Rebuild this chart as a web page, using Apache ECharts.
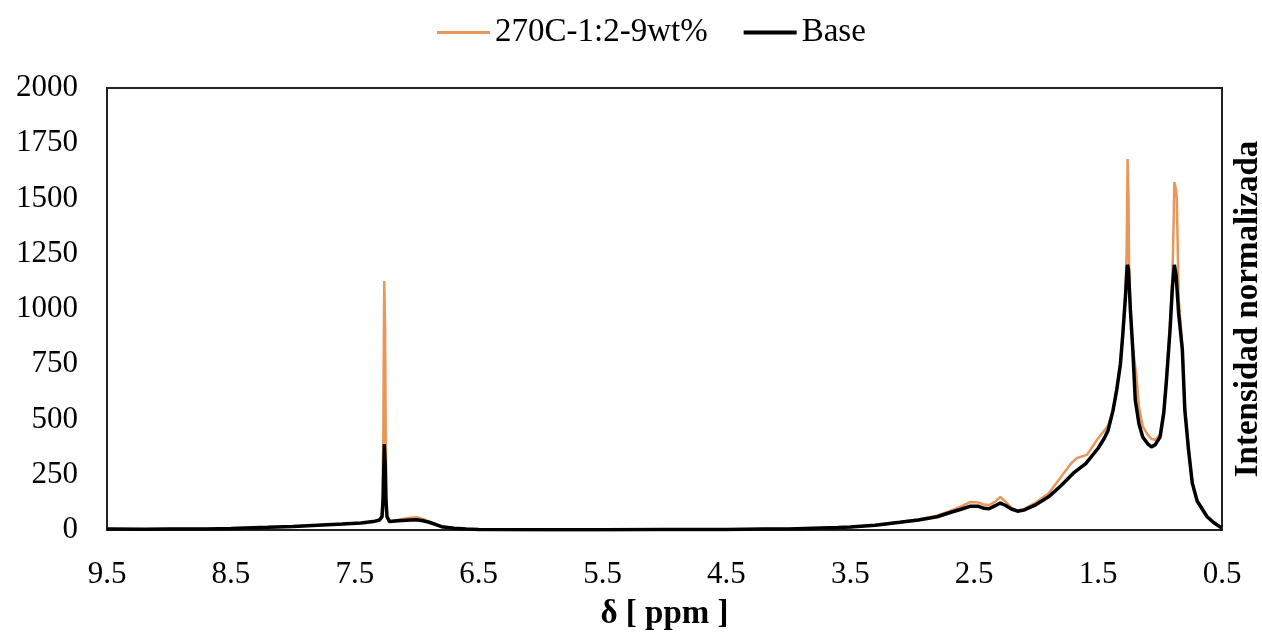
<!DOCTYPE html>
<html><head><meta charset="utf-8">
<script src="https://cdn.jsdelivr.net/npm/echarts@6/dist/echarts.min.js"></script>
<style>html,body{margin:0;padding:0;background:#fff}#c{width:1262px;height:635px}</style>
</head><body><div id="c"></div>
<script>
const seriesNames = ['270C-1:2-9wt%', 'Base'];
const xTickLabels = ['9.5','8.5','7.5','6.5','5.5','4.5','3.5','2.5','1.5','0.5'];
const yTickLabels = ['0','250','500','750','1000','1250','1500','1750','2000'];

// [ppm, intensity]
const sample270 = [
 [9.5,5],[9.2,3],[9.0,4],[8.7,5],[8.5,7],[8.2,12],[8.0,16],[7.8,22],[7.6,27],[7.45,32],[7.35,38],[7.3,45],
 [7.28,70],[7.27,400],[7.265,900],[7.262,1127],[7.258,1127],[7.255,900],[7.25,400],[7.24,70],
 [7.22,40],[7.15,46],[7.05,55],[7.0,58],[6.95,50],[6.9,38],[6.85,27],[6.8,16],[6.7,8],[6.6,4],[6.5,2],
 [6.0,1],[5.5,1],[5.0,2],[4.5,2],[4.2,4],[4.0,5],[3.8,8],[3.6,11],[3.5,14],[3.3,22],[3.1,36],[2.95,48],
 [2.8,65],[2.7,85],[2.6,108],[2.53,127],[2.47,125],[2.42,115],[2.38,113],[2.33,128],[2.29,150],[2.25,130],
 [2.2,100],[2.15,88],[2.1,95],[2.0,125],[1.9,165],[1.8,240],[1.72,300],[1.67,326],[1.59,340],[1.51,407],
 [1.46,443],[1.42,470],[1.38,540],[1.35,640],[1.32,760],[1.3,900],[1.28,1060],[1.27,1250],[1.265,1500],
 [1.262,1679],[1.258,1679],[1.255,1500],[1.25,1200],[1.24,1010],[1.22,830],[1.19,692],[1.17,556],
 [1.14,470],[1.1,432],[1.07,412],[1.04,408],[1.0,432],[0.97,540],[0.95,680],[0.92,920],[0.9,1150],
 [0.89,1400],[0.885,1575],[0.878,1570],[0.872,1540],[0.865,1500],[0.858,1300],[0.85,1050],[0.82,830],
 [0.8,555],[0.77,370],[0.74,218],[0.7,135],[0.62,62],[0.57,36],[0.52,16],[0.5,10]
];
const sampleBase = [
 [9.5,5],[9.2,3],[9.0,4],[8.7,5],[8.5,7],[8.2,12],[8.0,16],[7.8,22],[7.6,27],[7.45,32],[7.35,38],[7.3,45],
 [7.28,60],[7.27,150],[7.265,300],[7.262,389],[7.258,389],[7.255,300],[7.25,150],[7.24,60],
 [7.22,38],[7.15,42],[7.05,45],[7.0,46],[6.95,42],[6.9,35],[6.85,25],[6.8,15],[6.7,8],[6.6,4],[6.5,2],
 [6.0,1],[5.5,1],[5.0,2],[4.5,2],[4.2,4],[4.0,5],[3.8,8],[3.6,11],[3.5,14],[3.3,22],[3.1,35],[2.95,45],
 [2.8,60],[2.7,78],[2.6,95],[2.53,108],[2.47,108],[2.42,98],[2.38,96],[2.33,110],[2.29,122],[2.25,112],
 [2.2,95],[2.15,85],[2.1,90],[2.0,115],[1.9,150],[1.8,200],[1.7,257],[1.6,300],[1.5,370],[1.45,415],
 [1.42,450],[1.38,540],[1.35,633],[1.32,750],[1.3,890],[1.28,1050],[1.27,1150],[1.264,1200],[1.26,1208],
 [1.255,1180],[1.24,1000],[1.22,815],[1.2,588],[1.17,480],[1.14,421],[1.1,390],[1.07,376],[1.04,385],
 [1.0,420],[0.97,530],[0.95,665],[0.92,900],[0.9,1100],[0.885,1200],[0.88,1208],[0.87,1150],[0.85,980],
 [0.82,815],[0.8,543],[0.77,362],[0.74,212],[0.7,130],[0.62,60],[0.57,35],[0.52,15],[0.5,10]
];

const FONT = '"Liberation Serif", "Times New Roman", serif';
const chart = echarts.init(document.getElementById('c'), null, {renderer:'canvas'});
chart.setOption({
  animation: false,
  backgroundColor: '#fff',
  legend: {
    top: 11, left: 432, itemWidth: 53, itemHeight: 14, itemGap: 36,
    textStyle: {fontFamily: FONT, fontSize: 33, color: '#000'},
    data: [
      {name: seriesNames[0], icon: 'path://M0,5.5L53,5.5L53,8.5L0,8.5Z'},
      {name: seriesNames[1], icon: 'path://M0,5L53,5L53,9L0,9Z'}
    ]
  },
  grid: {left: 107, right: 40, top: 88, bottom: 105, show: true, borderColor: '#222', borderWidth: 2,
    containLabel: false, outerBoundsMode: 'none'},
  xAxis: {
    type: 'value', min: 0.5, max: 9.5, interval: 0.5, inverse: true,
    name: 'δ [ ppm ]', nameLocation: 'middle', nameGap: 68,
    nameTextStyle: {fontFamily: FONT, fontSize: 33, fontWeight: 'bold', color: '#000'},
    axisLine: {show: true, lineStyle: {color: '#222', width: 2}},
    axisTick: {show: false}, splitLine: {show: false},
    axisLabel: {
      margin: 29, fontFamily: FONT, fontSize: 31, color: '#000',
      formatter: v => { const s = v.toFixed(1); return xTickLabels.indexOf(s) >= 0 ? s : ''; }
    }
  },
  yAxis: [{
    type: 'value', min: 0, max: 2000, interval: 250,
    axisLine: {show: true, lineStyle: {color: '#222', width: 2}},
    axisTick: {show: false}, splitLine: {show: false},
    axisLabel: {margin: 29, fontFamily: FONT, fontSize: 31, color: '#000',
      formatter: v => yTickLabels[Math.round(v/250)]}
  }, {
    type: 'value', min: 0, max: 2000, interval: 250, position: 'right',
    name: 'Intensidad normalizada', nameLocation: 'middle', nameGap: 10, nameRotate: 90,
    nameTextStyle: {fontFamily: FONT, fontSize: 33, fontWeight: 'bold', color: '#000'},
    axisLine: {show: true, lineStyle: {color: '#222', width: 2}},
    axisTick: {show: false}, splitLine: {show: false}, axisLabel: {show: false}
  }],
  series: [{
    name: seriesNames[0], type: 'line', data: sample270, showSymbol: false, symbol: 'none',
    lineStyle: {color: '#E9965A', width: 2.5}, itemStyle: {color: '#E9965A'}, z: 2
  }, {
    name: seriesNames[1], type: 'line', data: sampleBase, showSymbol: false, symbol: 'none',
    lineStyle: {color: '#000', width: 3.5}, itemStyle: {color: '#000'}, z: 3
  }]
});
</script></body></html>
